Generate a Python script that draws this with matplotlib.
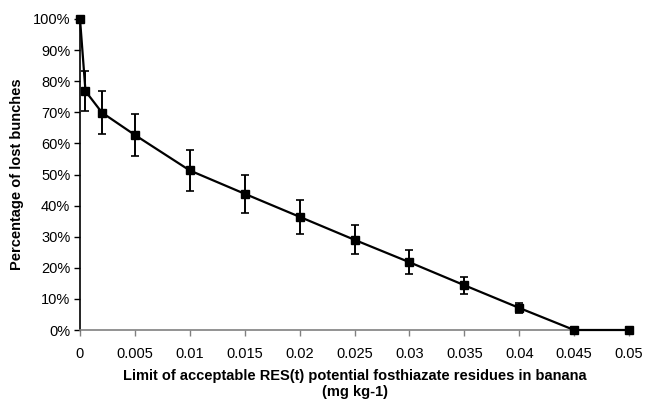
import matplotlib
matplotlib.use("Agg")
import matplotlib.pyplot as plt
from matplotlib.ticker import FuncFormatter

plt.rcParams['font.family'] = ['Liberation Sans', 'DejaVu Sans']

limits = [0, 0.0005, 0.002, 0.005, 0.01, 0.015, 0.02, 0.025, 0.03, 0.035, 0.04, 0.045, 0.05]
lost_pct = [100, 76.8, 69.9, 62.7, 51.3, 43.8, 36.4, 29.0, 21.8, 14.4, 7.1, 0, 0]
err_pct = [0, 6.5, 6.8, 6.8, 6.5, 6.1, 5.4, 4.7, 3.9, 2.8, 1.6, 0, 0]
xticks = [0, 0.005, 0.01, 0.015, 0.02, 0.025, 0.03, 0.035, 0.04, 0.045, 0.05]
xtick_labels = ['0', '0.005', '0.01', '0.015', '0.02', '0.025', '0.03', '0.035', '0.04', '0.045', '0.05']
yticks = [0, 10, 20, 30, 40, 50, 60, 70, 80, 90, 100]

fig = plt.figure(figsize=(6.45, 4.0), dpi=100)
ax = fig.add_axes([80/645, 1-330/400, 549/645, 311/400])

ax.errorbar(limits, lost_pct, yerr=err_pct, color='black', marker='s', markersize=5.5,
            linewidth=1.6, elinewidth=1.4, capsize=3, capthick=1.2, clip_on=False, zorder=3)

ax.set_xlim(0, 0.05)
ax.set_ylim(0, 100)
ax.set_xticks(xticks)
ax.set_xticklabels(xtick_labels)
ax.set_yticks(yticks)
ax.yaxis.set_major_formatter(FuncFormatter(lambda v, p: f"{int(round(v))}%"))

for s in ['top', 'right']:
    ax.spines[s].set_visible(False)
ax.spines['left'].set_color('black')
ax.spines['left'].set_linewidth(1.2)
ax.spines['bottom'].set_color('#808080')
ax.spines['bottom'].set_linewidth(1.2)

ax.tick_params(axis='x', direction='out', length=4, width=1, color='#808080', labelsize=10.5, pad=8)
ax.tick_params(axis='y', direction='out', length=4, width=1, color='black', labelsize=10.5, pad=3)

ax.set_xlabel("Limit of acceptable RES(t) potential fosthiazate residues in banana\n(mg kg-1)",
              fontsize=10.5, fontweight='bold', labelpad=6, linespacing=1.2)
ax.set_ylabel("Percentage of lost bunches", fontsize=10.5, fontweight='bold', labelpad=6)

fig.savefig("out.png", dpi=100)
